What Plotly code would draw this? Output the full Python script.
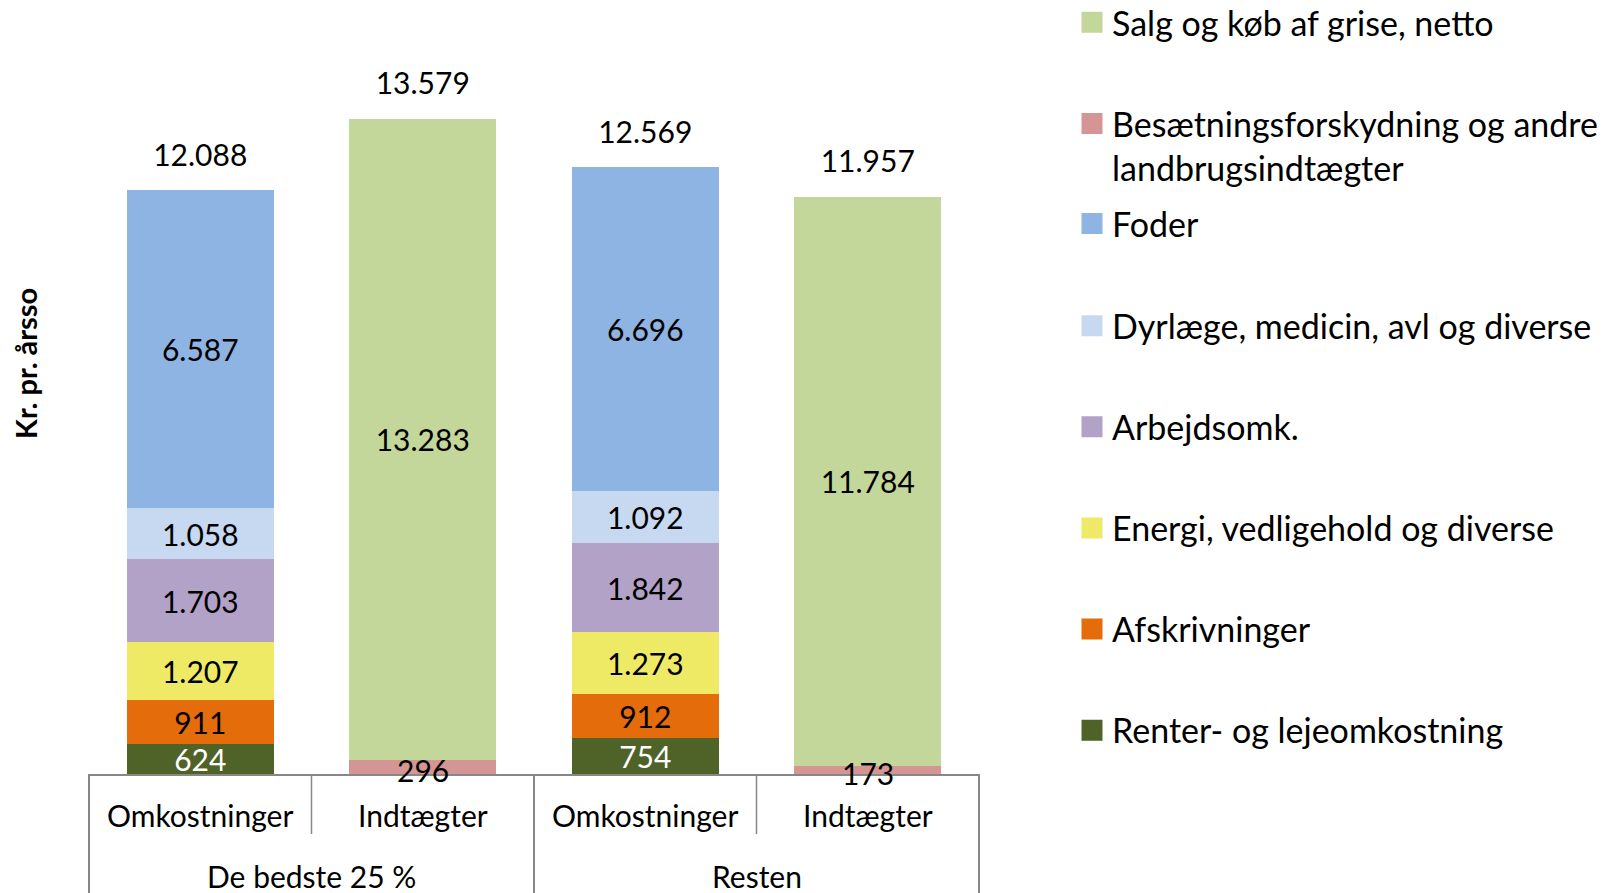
import plotly.graph_objects as go

# ---------------- data ----------------
groups = ["De bedste 25 %", "De bedste 25 %", "Resten", "Resten"]
subs = ["Omkostninger", "Indtægter", "Omkostninger", "Indtægter"]

renter = [624, None, 754, None]
afskrivninger = [911, None, 912, None]
energi = [1207, None, 1273, None]
arbejdsomk = [1703, None, 1842, None]
dyrlaege = [1058, None, 1092, None]
foder = [6587, None, 6696, None]
besaetning = [None, 296, None, 173]
salg = [None, 13283, None, 11784]
totals = [12088, 13579, 12569, 11957]

series_names = [
    "Renter- og lejeomkostning",
    "Afskrivninger",
    "Energi, vedligehold og diverse",
    "Arbejdsomk.",
    "Dyrlæge, medicin, avl og diverse",
    "Foder",
    "Besætningsforskydning og andre<br>landbrugsindtægter",
    "Salg og køb af grise, netto",
]
series_values = [renter, afskrivninger, energi, arbejdsomk, dyrlaege, foder, besaetning, salg]
series_colors = ["#4F6228", "#E46C0A", "#EEEA66", "#B3A2C7", "#C6D9F1", "#8EB4E3", "#D59594", "#C4D79B"]
label_colors = ["white", "black", "black", "black", "black", "black", "black", "black"]

FONT = "Lato"
FS = 30
LEG_FS = 34
AXIS_GREY = "#878787"

def dk(v):
    return f"{v:,.0f}".replace(",", ".")

# ---------------- layout geometry (page pixels) ----------------
OFF = 8                      # default <body> margin of the html page
W, H = 1618, 893
PLOT_L, PLOT_R, PLOT_T, PLOT_B = 89, 979, 50, 774
ML, MT = PLOT_L - OFF, PLOT_T - OFF
MR = W - (PLOT_R - OFF)
MB = H - (PLOT_B - OFF)
PH = PLOT_B - PLOT_T
PW = PLOT_R - PLOT_L
YMAX = 15000

def py(pix):
    return (PLOT_B - pix) / PH

def px(pix):
    return (pix - PLOT_L) / PW

# legend marker centres (page pixels), bottom series first
legend_centres = [730.6, 629.5, 528.3, 427.2, 326.1, 223.9, 123.8, 22.7]

x = [groups, subs]
n = len(subs)
fig = go.Figure()
small_series = "Besætningsforskydning og andre<br>landbrugsindtægter"
annotations = []
for i, (name, vals, col, lc) in enumerate(zip(series_names, series_values, series_colors, label_colors)):
    is_small = name == small_series
    fig.add_trace(go.Bar(
        x=x, y=vals, name=name.replace("<br>", " "), marker=dict(color=col, line=dict(width=0)),
        texttemplate="%{y:,.0f}", textposition="none" if is_small else "inside",
        insidetextanchor="middle", constraintext="none",
        insidetextfont=dict(family=FONT, size=FS, color=lc),
        showlegend=False, hoverinfo="name+y",
    ))
    if is_small:
        # thin segments: label spills over the axis line, as in the original
        for j, v in enumerate(vals):
            if v is None:
                continue
            annotations.append(dict(text=dk(v), xref="paper", yref="y", x=(j + 0.5) / n, y=v / 2,
                                    xanchor="center", yanchor="middle", yshift=-3, showarrow=False,
                                    font=dict(family=FONT, size=FS, color=lc)))

# totals above the bars
fig.add_trace(go.Scatter(
    x=x, y=totals, mode="markers+text", texttemplate="%{y:,.0f}",
    textposition="top center", marker=dict(size=26, opacity=0),
    textfont=dict(family=FONT, size=FS, color="black"),
    showlegend=False, hoverinfo="skip", cliponaxis=False,
))

# legend entries (one legend per series so they can be spaced like the original)
layout_legends = {}
for i, (name, col, c) in enumerate(zip(series_names, series_colors, legend_centres)):
    lid = "legend" if i == 0 else f"legend{i+1}"
    fig.add_trace(go.Scatter(
        x=[None], y=[None], mode="markers", name=name, legend=lid,
        marker=dict(symbol="square", size=16, color=col, line=dict(color=col, width=5)),
        hoverinfo="skip",
    ))
    layout_legends[lid] = dict(
        x=px(1072), y=py(c - 29), xanchor="left", yanchor="top",
        font=dict(family=FONT, size=LEG_FS, color="black"),
        bgcolor="rgba(0,0,0,0)", borderwidth=0, valign="top",
        itemclick=False, itemdoubleclick=False,
    )

# category frame lines below the axis (Excel multi-level axis style)
shapes = []
for xp in [0.0, 0.5, 1.0]:
    shapes.append(dict(type="line", xref="paper", yref="paper", x0=xp, x1=xp,
                       y0=0, y1=py(910), line=dict(color=AXIS_GREY, width=2)))
for xp in [0.25, 0.75]:
    shapes.append(dict(type="line", xref="paper", yref="paper", x0=xp, x1=xp,
                       y0=0, y1=py(834), line=dict(color=AXIS_GREY, width=1.5)))

# axis category labels
for i, s in enumerate(subs):
    annotations.append(dict(text=s, xref="paper", yref="paper", x=(i + 0.5) / n, y=py(815),
                            xanchor="center", yanchor="middle", showarrow=False,
                            font=dict(family=FONT, size=FS, color="black")))
for g in dict.fromkeys(groups):
    idx = [i for i, gg in enumerate(groups) if gg == g]
    annotations.append(dict(text=g, xref="paper", yref="paper",
                            x=(sum(idx) / len(idx) + 0.5) / n, y=py(876),
                            xanchor="center", yanchor="middle", showarrow=False,
                            font=dict(family=FONT, size=FS, color="black")))
# y-axis title
annotations.append(dict(text="<b>Kr. pr. årsso</b>", xref="paper", yref="paper",
                        x=px(26), y=py(364), xanchor="center", yanchor="middle",
                        textangle=-90, showarrow=False,
                        font=dict(family=FONT, size=29, color="black")))

fig.update_layout(
    width=W, height=H,
    margin=dict(l=ML, r=MR, t=MT, b=MB, autoexpand=False),
    paper_bgcolor="white", plot_bgcolor="white",
    barmode="stack", bargap=0.34,
    separators=",.",
    font=dict(family=FONT, size=FS, color="black"),
    xaxis=dict(
        type="multicategory", showline=True, linecolor=AXIS_GREY, linewidth=2,
        showgrid=False, ticks="", showticklabels=False, showdividers=False,
        automargin=False, range=[-0.5, 3.5],
    ),
    yaxis=dict(
        range=[0, YMAX], showgrid=False, showline=False, showticklabels=False,
        ticks="", zeroline=False, automargin=False,
    ),
    shapes=shapes,
    annotations=annotations,
    **layout_legends,
)

fig.write_html("out.html")
